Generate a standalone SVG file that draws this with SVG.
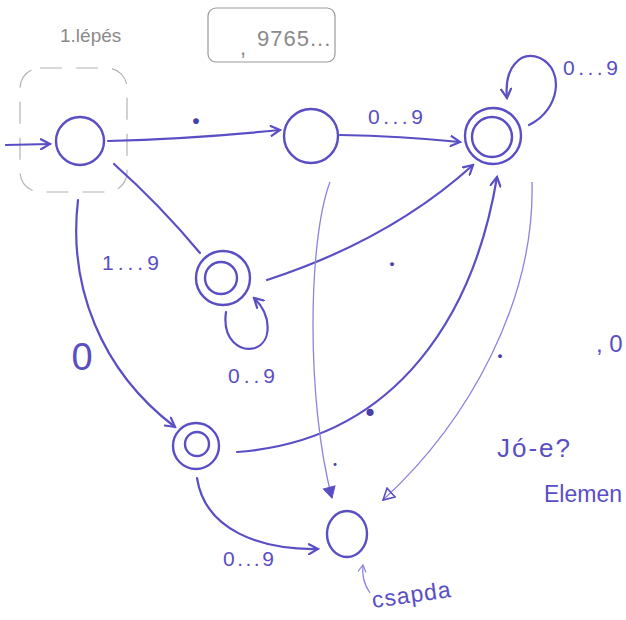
<svg xmlns="http://www.w3.org/2000/svg" width="626" height="620" viewBox="0 0 626 620">
<style>
.st{fill:none;stroke:#5a4ec4;stroke-width:2.4}
.e{fill:none;stroke:#5a4ec4;stroke-width:2.2;stroke-linecap:round}
.thin{fill:none;stroke:#8c84dc;stroke-width:1.3}
.pen{fill:none;stroke:#9a9a9a;stroke-width:1.2}
.t{font-family:"Liberation Sans",Arial,sans-serif;fill:#5a4ec4}
.g{font-family:"Liberation Sans",Arial,sans-serif;fill:#8a8a8a}
.dot{font-family:"Liberation Serif","Times New Roman",serif;fill:#4a3ea8;font-weight:bold;text-anchor:middle}
</style>
<defs>
<marker id="open" markerWidth="12" markerHeight="12" refX="10" refY="6" orient="auto" markerUnits="userSpaceOnUse">
<path d="M1,1 L10,6 L1,11" fill="none" stroke="#5a4ec4" stroke-width="2.2" stroke-linecap="round"/>
</marker>
<marker id="fill" markerWidth="14" markerHeight="14" refX="12" refY="7" orient="auto" markerUnits="userSpaceOnUse">
<path d="M1,1 L12,7 L1,13 Z" fill="#5a4ec4" stroke="#5a4ec4" stroke-width="1"/>
</marker>
<marker id="tri" markerWidth="14" markerHeight="14" refX="12" refY="7" orient="auto" markerUnits="userSpaceOnUse">
<path d="M1,1 L12,7 L1,13 Z" fill="none" stroke="#5a4ec4" stroke-width="1.6"/>
</marker>
<marker id="thinopen" markerWidth="10" markerHeight="10" refX="8" refY="5" orient="auto" markerUnits="userSpaceOnUse">
<path d="M1,1 L8,5 L1,9" fill="none" stroke="#8c84dc" stroke-width="1.2"/>
</marker>
</defs>
<rect width="626" height="620" fill="#ffffff"/>
<g id="notes">
<rect x="20" y="68" width="107" height="124" rx="20" class="pen" style="stroke:#b4b4b4" stroke-dasharray="22 14"/>
<rect x="208" y="8" width="127" height="54" rx="8" class="pen"/>
<text class="g" x="60" y="42" style="font-size:19px">1.lépés</text>
<text class="g" x="240" y="55" style="font-size:22px">,</text>
<text class="g" x="257" y="46" style="font-size:22px" letter-spacing="1">9765...</text>
</g>
<g id="connectors">
<path class="e" d="M6,145 L50,144" marker-end="url(#open)"/>
<path class="e" d="M108,141 Q190,139 280,130" marker-end="url(#open)"/>
<path class="e" d="M340,135 Q400,136 460,142" marker-end="url(#open)"/>
<path class="e" d="M529,125 C560,110 565,70 540,58 C520,50 504,68 507,98" marker-end="url(#open)"/>
<path class="e" d="M114,164 Q160,205 200,253"/>
<path class="e" d="M226,312 C222,340 240,352 255,348 C272,342 272,315 254,298" marker-end="url(#open)"/>
<path class="e" d="M267,280 Q390,240 473,165" marker-end="url(#open)"/>
<path class="e" d="M78,200 C68,285 100,370 175,427" marker-end="url(#open)"/>
<path class="e" d="M237,452 C400,440 475,310 497,177" marker-end="url(#open)"/>
<path class="thin" d="M330,182 C308,240 306,400 332,498" marker-end="url(#fill)"/>
<path class="thin" d="M532,182 C535,300 470,420 383,500" marker-end="url(#tri)"/>
<path class="e" d="M197,478 C205,530 260,550 318,549" marker-end="url(#open)"/>
<path class="thin" d="M370,593 Q361,580 363,565" marker-end="url(#thinopen)"/>
<text class="dot" x="196" y="124" font-size="36">.</text>
<text class="t" x="368" y="124" style="font-size:21px" letter-spacing="3.5">0...9</text>
<text class="t" x="563" y="75" style="font-size:21px" letter-spacing="3.5">0...9</text>
<text class="t" x="102" y="270" style="font-size:21px" letter-spacing="4">1...9</text>
<text class="t" x="228" y="383" style="font-size:21px" letter-spacing="4">0..9</text>
<text class="t" x="82" y="370" style="font-size:38px" text-anchor="middle">0</text>
<text class="dot" x="392" y="266" font-size="24">.</text>
<text class="dot" x="370" y="416" font-size="44">.</text>
<text class="dot" x="335" y="466" font-size="18">.</text>
<text class="dot" x="500" y="358" font-size="24">.</text>
<text class="t" x="223" y="566" style="font-size:21px" letter-spacing="2.5">0...9</text>
</g>
<g id="q0"><circle class="st" cx="80" cy="141" r="24"/></g>
<g id="q1"><circle class="st" cx="311" cy="136" r="27"/></g>
<g id="q2"><circle class="st" cx="493" cy="136" r="28"/><circle class="st" cx="492" cy="137" r="20"/></g>
<g id="q3"><circle class="st" cx="223" cy="278" r="27"/><circle class="st" cx="221" cy="278" r="16"/></g>
<g id="q4"><circle class="st" cx="196" cy="446" r="23"/><circle class="st" cx="197" cy="444" r="12"/></g>
<g id="trap"><ellipse class="st" cx="347" cy="534" rx="20" ry="23"/></g>
<g id="texts">
<text class="t" x="373" y="608" style="font-size:23px" letter-spacing="1" transform="rotate(-8 373 608)">csapda</text>
<text class="t" x="596" y="352" style="font-size:24px">, 0</text>
<text class="t" x="497" y="457" style="font-size:26px" letter-spacing="2">Jó-e?</text>
<text class="t" x="544" y="502" style="font-size:23px">Elemen</text>
</g>
</svg>
